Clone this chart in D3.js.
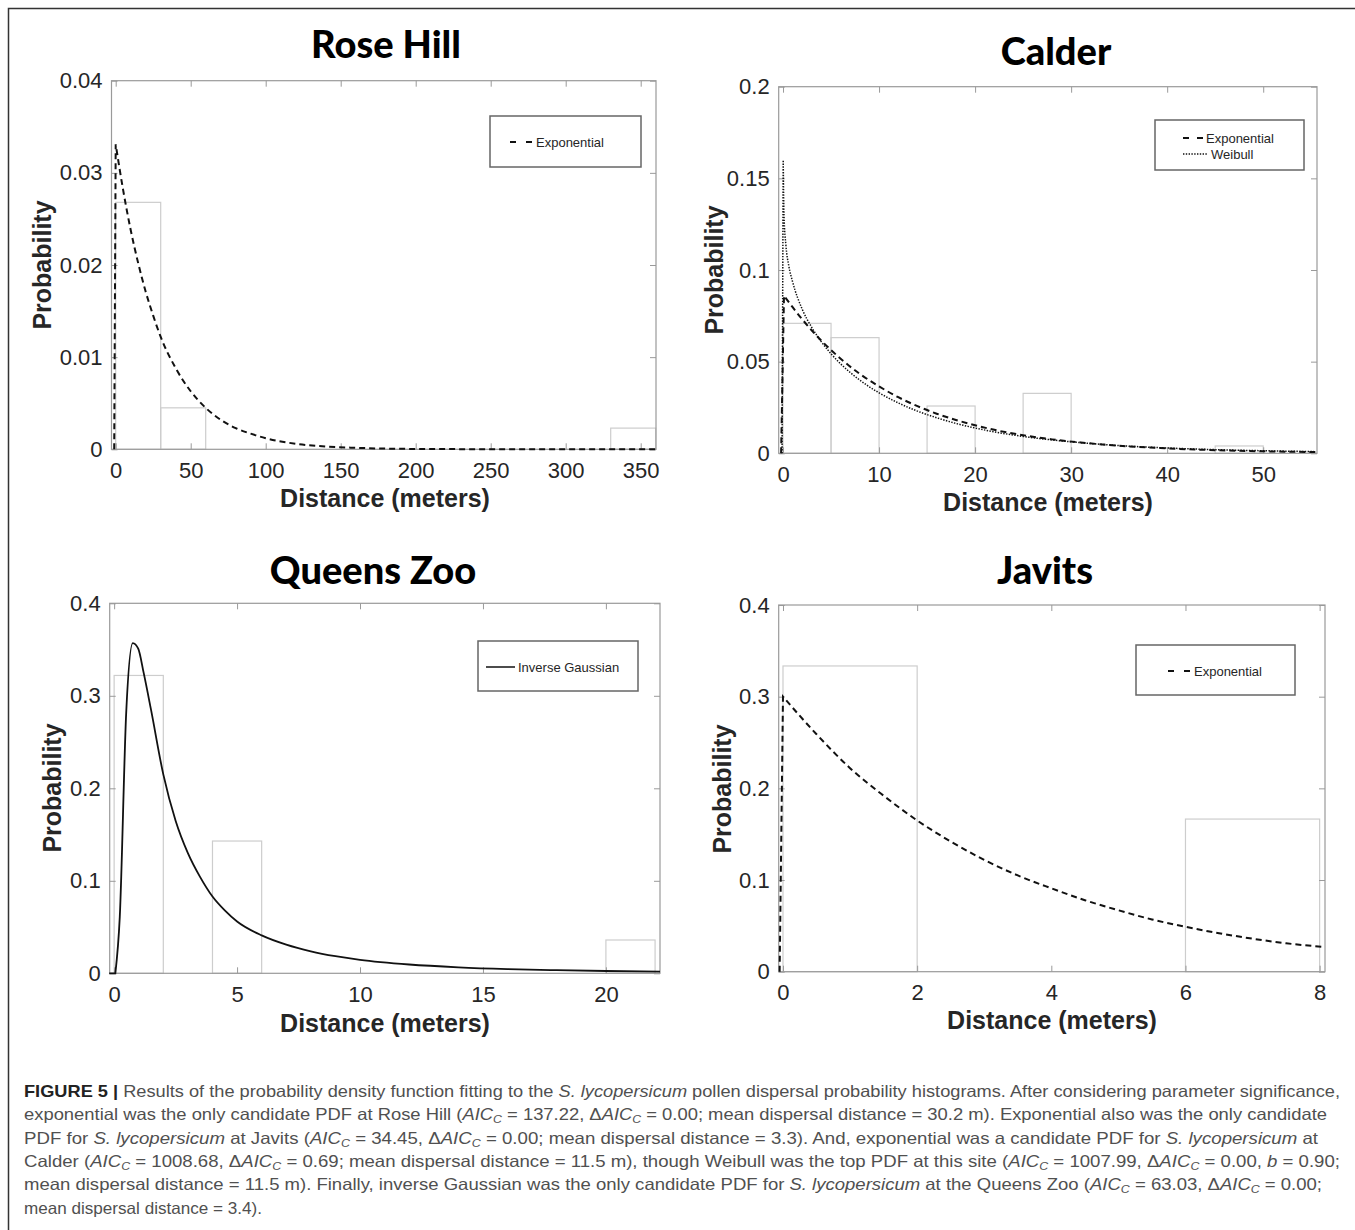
<!DOCTYPE html>
<html>
<head>
<meta charset="utf-8">
<script src="https://cdnjs.cloudflare.com/ajax/libs/d3/7.8.5/d3.min.js"></script>
<style>
  body { margin: 0; background: #fff; }
  svg { display: block; }
</style>
</head>
<body>
<script>
// ---- data ----
// histogram bins: [from, to, probability]
var roseHillBins = [[0, 30, 0.0268], [30, 60, 0.0045], [330, 360, 0.0023]];
var calderBins = [[0, 5, 0.0709], [5, 10, 0.0631], [15, 20, 0.0258], [25, 30, 0.0327], [45, 50, 0.004]];
var queensBins = [[0, 2, 0.322], [4, 6, 0.143], [20, 22, 0.036]];
var javitsBins = [[0, 2, 0.3335], [6, 8, 0.1665]];

// fitted curves (first point is the foot of the vertical rise)
var roseHillExpX = [-1, 0, 5, 10, 15, 20, 25, 30, 40, 50, 60, 70, 80, 90, 100, 120, 140, 160, 200, 250, 300, 360];
var roseHillExpY = [0, 0.0331, 0.0281, 0.0238, 0.0202, 0.0171, 0.0145, 0.0122, 0.0088, 0.0063, 0.0045, 0.0032, 0.0023, 0.0017, 0.0012, 0.0006, 0.0003, 0.00016, 0.00004, 0.00001, 0, 0];

var calderExpX = [-0.2, 0.1, 1, 2, 3, 4, 5, 6, 8, 10, 12, 14, 16, 18, 20, 22, 25, 28, 31, 35, 40, 45, 50, 55.5];
var calderExpY = [0, 0.086, 0.0797, 0.0731, 0.067, 0.0614, 0.0563, 0.0516, 0.0433, 0.0365, 0.0306, 0.0257, 0.0216, 0.0182, 0.0153, 0.0128, 0.0099, 0.0076, 0.0059, 0.0041, 0.0027, 0.0017, 0.0011, 0.0007];
var calderWeibullX = [-0.1, 0.02, 0.1, 0.3, 0.6, 1, 2, 3, 4, 5, 6, 8, 10, 12, 14, 16, 18, 20, 22, 25, 28, 31, 35, 40, 45, 50, 55.5];
var calderWeibullY = [0, 0.16, 0.13, 0.1135, 0.1023, 0.0935, 0.0786, 0.0686, 0.0608, 0.0543, 0.0488, 0.0399, 0.033, 0.0275, 0.023, 0.0194, 0.0163, 0.0138, 0.0117, 0.0092, 0.0073, 0.0058, 0.0042, 0.0029, 0.002, 0.0014, 0.0009];

var queensX = [-0.2, 0.05, 0.23, 0.49, 0.76, 0.98, 1.2, 1.5, 2, 2.5, 3, 3.5, 4, 4.5, 5, 6, 7, 8, 9, 10, 12, 14, 16, 18, 20, 22.2];
var queensY = [0, 0, 0.061, 0.281, 0.357, 0.351, 0.325, 0.285, 0.215, 0.165, 0.13, 0.104, 0.083, 0.068, 0.056, 0.041, 0.031, 0.0238, 0.0185, 0.0145, 0.0095, 0.0065, 0.0046, 0.0034, 0.0025, 0.0018];

var javitsX = [-0.05, 0, 0.5, 1, 1.5, 2, 2.5, 3, 3.5, 4, 4.5, 5, 5.5, 6, 6.5, 7, 7.5, 8.08];
var javitsY = [0, 0.3, 0.259, 0.222, 0.192, 0.165, 0.142, 0.122, 0.105, 0.091, 0.078, 0.067, 0.057, 0.049, 0.042, 0.036, 0.031, 0.027];

// ticks
var roseHillXTicks = [0, 50, 100, 150, 200, 250, 300, 350];
var roseHillYTicks = [0, 0.01, 0.02, 0.03, 0.04];
var calderXTicks = [0, 10, 20, 30, 40, 50];
var calderYTicks = [0, 0.05, 0.1, 0.15, 0.2];
var queensXTicks = [0, 5, 10, 15, 20];
var queensYTicks = [0, 0.1, 0.2, 0.3, 0.4];
var javitsXTicks = [0, 2, 4, 6, 8];
var javitsYTicks = [0, 0.1, 0.2, 0.3, 0.4];

var titles = ["Rose Hill", "Calder", "Queens Zoo", "Javits"];
var xLabel = "Distance (meters)";
var yLabel = "Probability";

// caption: [text, style]  b = bold, i = italic, s = subscript
var AIC = [["AIC", "i"], ["C", "s"]];
var captionLines = [
  [["FIGURE 5 | ", "b"], ["Results of the probability density function fitting to the ", ""], ["S. lycopersicum", "i"], [" pollen dispersal probability histograms. After considering parameter significance,", ""]],
  [["exponential was the only candidate PDF at Rose Hill (", ""]].concat(AIC, [[" = 137.22, \u0394", ""]], AIC, [[" = 0.00; mean dispersal distance = 30.2 m). Exponential also was the only candidate", ""]]),
  [["PDF for ", ""], ["S. lycopersicum", "i"], [" at Javits (", ""]].concat(AIC, [[" = 34.45, \u0394", ""]], AIC, [[" = 0.00; mean dispersal distance = 3.3). And, exponential was a candidate PDF for ", ""], ["S. lycopersicum", "i"], [" at", ""]]),
  [["Calder (", ""]].concat(AIC, [[" = 1008.68, \u0394", ""]], AIC, [[" = 0.69; mean dispersal distance = 11.5 m), though Weibull was the top PDF at this site (", ""]], AIC, [[" = 1007.99, \u0394", ""]], AIC, [[" = 0.00, ", ""], ["b", "i"], [" = 0.90;", ""]]),
  [["mean dispersal distance = 11.5 m). Finally, inverse Gaussian was the only candidate PDF for ", ""], ["S. lycopersicum", "i"], [" at the Queens Zoo (", ""]].concat(AIC, [[" = 63.03, \u0394", ""]], AIC, [[" = 0.00;", ""]]),
  [["mean dispersal distance = 3.4).", ""]]
];
var captionEnds = [1340, 1327, 1318, 1340, 1322, 262];

// ---- drawing ----
var w = 1355;
var h = 1230;
var svg = d3.select("body").append("svg").attr("width", w).attr("height", h);

// outer figure frame
svg.append("rect")
  .attr("x", 8.5).attr("y", 8.5)
  .attr("width", 1400).attr("height", 1400)
  .attr("fill", "none").attr("stroke", "#333").attr("stroke-width", 1.5);

var panels = [
  {
    title: titles[0], titleX: 386, titleY: 58,
    left: 111.5, right: 656, top: 80.7, bottom: 449.3,
    xDomain: [-2.8, 360.2], yDomain: [0, 0.04],
    xTicks: roseHillXTicks, yTicks: roseHillYTicks,
    bins: roseHillBins,
    curves: [{ x: roseHillExpX, y: roseHillExpY, dash: "6,4", width: 2 }],
    yLabelX: 42, yLabelY: 265, xLabelX: 385, xLabelY: 507,
    legend: { x: 490, y: 116, w: 151, h: 51,
      items: [{ label: "Exponential", dash: "6,10", width: 2, x0: 510, x1: 533, y: 142 }] }
  },
  {
    title: titles[1], titleX: 1056, titleY: 65,
    left: 778.7, right: 1317, top: 86.7, bottom: 453.3,
    xDomain: [-0.45, 55.6], yDomain: [0, 0.2],
    xTicks: calderXTicks, yTicks: calderYTicks,
    bins: calderBins,
    curves: [
      { x: calderExpX, y: calderExpY, dash: "6,4", width: 2 },
      { x: calderWeibullX, y: calderWeibullY, dash: "1.4,1.4", width: 1.5 }
    ],
    yLabelX: 714, yLabelY: 270, xLabelX: 1048, xLabelY: 511,
    legend: { x: 1155, y: 120, w: 149, h: 50,
      items: [
        { label: "Exponential", dash: "6,8", width: 2, x0: 1183, x1: 1203, y: 138 },
        { label: "Weibull", dash: "1.4,1.4", width: 1.5, x0: 1183, x1: 1208, y: 154 }
      ] }
  },
  {
    title: titles[2], titleX: 373, titleY: 584,
    left: 109.7, right: 660, top: 603.3, bottom: 973.3,
    xDomain: [-0.18, 22.2], yDomain: [0, 0.4],
    xTicks: queensXTicks, yTicks: queensYTicks,
    bins: queensBins,
    curves: [{ x: queensX, y: queensY, dash: null, width: 1.8 }],
    yLabelX: 52, yLabelY: 788, xLabelX: 385, xLabelY: 1032,
    legend: { x: 478, y: 641, w: 160, h: 50,
      items: [{ label: "Inverse Gaussian", dash: null, width: 1.5, x0: 486, x1: 515, y: 667 }] }
  },
  {
    title: titles[3], titleX: 1045, titleY: 584,
    left: 778.7, right: 1325, top: 605, bottom: 971.7,
    xDomain: [-0.064, 8.08], yDomain: [0, 0.4],
    xTicks: javitsXTicks, yTicks: javitsYTicks,
    bins: javitsBins,
    curves: [{ x: javitsX, y: javitsY, dash: "6,4", width: 2 }],
    yLabelX: 722, yLabelY: 789, xLabelX: 1052, xLabelY: 1029,
    legend: { x: 1136, y: 645, w: 159, h: 50,
      items: [{ label: "Exponential", dash: "6,10", width: 2, x0: 1168, x1: 1191, y: 671 }] }
  }
];

var tickFmt = d3.format("~g");

function drawPanel(p) {
  var x = d3.scaleLinear().domain(p.xDomain).range([p.left, p.right]);
  var y = d3.scaleLinear().domain(p.yDomain).range([p.bottom, p.top]);
  var g = svg.append("g");

  //histogram bars, outlines only
  g.selectAll("rect.bar")
    .data(p.bins)
    .enter()
    .append("rect")
    .attr("class", "bar")
    .attr("x", d => x(d[0]))
    .attr("width", d => x(d[1]) - x(d[0]))
    .attr("y", d => y(d[2]))
    .attr("height", d => y(0) - y(d[2]))
    .attr("fill", "none")
    .attr("stroke", "#cdcdcd")
    .attr("stroke-width", 1.2);

  //axes, ticks point inward on all four sides
  var bottom = g.append("g").attr("transform", "translate(0," + p.bottom + ")")
    .call(d3.axisBottom(x).tickValues(p.xTicks).tickFormat(tickFmt).tickSizeInner(-6).tickSizeOuter(0).tickPadding(13));
  var left = g.append("g").attr("transform", "translate(" + p.left + ",0)")
    .call(d3.axisLeft(y).tickValues(p.yTicks).tickFormat(tickFmt).tickSizeInner(-6).tickSizeOuter(0).tickPadding(9));
  var top = g.append("g").attr("transform", "translate(0," + p.top + ")")
    .call(d3.axisTop(x).tickValues(p.xTicks).tickFormat("").tickSizeInner(-6).tickSizeOuter(0));
  var right = g.append("g").attr("transform", "translate(" + p.right + ",0)")
    .call(d3.axisRight(y).tickValues(p.yTicks).tickFormat("").tickSizeInner(-6).tickSizeOuter(0));

  [bottom, left, top, right].forEach(function (a) {
    a.select(".domain").remove();
    a.selectAll(".tick line").attr("stroke", "#9a9a9a");
    a.selectAll(".tick text")
      .attr("fill", "#262626")
      .style("font-family", "'Liberation Sans', Arial, sans-serif")
      .style("font-size", "22px");
  });

  //plot frame
  g.append("rect")
    .attr("x", p.left).attr("y", p.top)
    .attr("width", p.right - p.left).attr("height", p.bottom - p.top)
    .attr("fill", "none").attr("stroke", "#9a9a9a").attr("stroke-width", 1.2);

  //fitted curves: straight rise from the foot point, smooth decay after it
  p.curves.forEach(function (c) {
    var line = d3.line()
      .x(i => x(c.x[i]))
      .y(i => y(c.y[i]))
      .curve(d3.curveMonotoneX);
    var rest = line(d3.range(1, c.x.length));
    var d = "M" + x(c.x[0]) + "," + y(c.y[0]) + "L" + rest.slice(1);
    g.append("path")
      .attr("d", d)
      .attr("fill", "none")
      .attr("stroke", "#111")
      .attr("stroke-width", c.width)
      .attr("stroke-dasharray", c.dash);
  });

  //legend
  var L = p.legend;
  g.append("rect")
    .attr("x", L.x).attr("y", L.y).attr("width", L.w).attr("height", L.h)
    .attr("fill", "#fff").attr("stroke", "#666").attr("stroke-width", 1.5);
  L.items.forEach(function (it) {
    g.append("line")
      .attr("x1", it.x0).attr("x2", it.x1).attr("y1", it.y).attr("y2", it.y)
      .attr("stroke", "#111").attr("stroke-width", it.width)
      .attr("stroke-dasharray", it.dash);
    g.append("text")
      .attr("x", it.x1 + 3).attr("y", it.y)
      .attr("dy", "0.35em")
      .attr("fill", "#262626")
      .style("font-family", "'Liberation Sans', Arial, sans-serif")
      .style("font-size", "13px")
      .text(it.label);
  });

  //title and axis labels
  svg.append("text")
    .attr("x", p.titleX).attr("y", p.titleY)
    .attr("text-anchor", "middle")
    .style("font-family", "Lato, 'Open Sans', sans-serif")
    .style("font-weight", "900")
    .style("font-size", "38px")
    .text(p.title);

  svg.append("text")
    .attr("x", p.xLabelX).attr("y", p.xLabelY)
    .attr("text-anchor", "middle")
    .attr("fill", "#262626")
    .style("font-family", "'Liberation Sans', Arial, sans-serif")
    .style("font-weight", "bold")
    .style("font-size", "25px")
    .text(xLabel);

  svg.append("text")
    .attr("transform", "translate(" + p.yLabelX + "," + p.yLabelY + ") rotate(-90)")
    .attr("text-anchor", "middle")
    .attr("dominant-baseline", "central")
    .attr("fill", "#262626")
    .style("font-family", "'Liberation Sans', Arial, sans-serif")
    .style("font-weight", "bold")
    .style("font-size", "25px")
    .text(yLabel);
}

panels.forEach(drawPanel);

//caption text below the panels
var captionX = 24;
var captionBase = 1097;
var captionStep = 23.3;
captionLines.forEach(function (segs, i) {
  var t = svg.append("text")
    .attr("x", captionX)
    .attr("y", captionBase + i * captionStep)
    .attr("fill", "#505050")
    .style("font-family", "'Liberation Sans', Arial, sans-serif")
    .style("font-size", "16.5px");
  var shifted = false;
  segs.forEach(function (s) {
    var ts = t.append("tspan").text(s[0]);
    if (s[1] === "b") ts.style("font-weight", "bold").attr("fill", "#222");
    if (s[1] === "i") ts.style("font-style", "italic");
    if (s[1] === "s") {
      ts.style("font-style", "italic").style("font-size", "11px").attr("dy", 3);
      shifted = true;
    } else if (shifted) {
      ts.attr("dy", -3);
      shifted = false;
    }
  });
  if (captionEnds[i]) {
    t.attr("textLength", captionEnds[i] - captionX).attr("lengthAdjust", "spacingAndGlyphs");
  }
});
</script>
</body>
</html>
